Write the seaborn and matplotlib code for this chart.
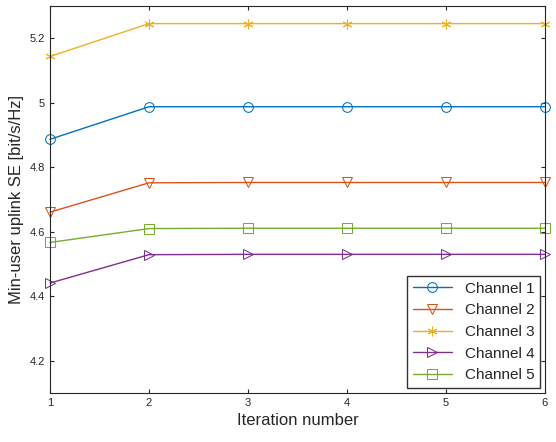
import matplotlib
matplotlib.use("Agg")
import matplotlib.pyplot as plt
import pandas as pd
import seaborn as sns

iterations = [1, 2, 3, 4, 5, 6]
channel_1 = [4.887, 4.988, 4.988, 4.988, 4.988, 4.988]
channel_2 = [4.661, 4.752, 4.753, 4.753, 4.753, 4.753]
channel_3 = [5.144, 5.246, 5.246, 5.246, 5.246, 5.246]
channel_4 = [4.441, 4.529, 4.530, 4.530, 4.530, 4.530]
channel_5 = [4.567, 4.610, 4.611, 4.611, 4.611, 4.611]
names = ["Channel 1", "Channel 2", "Channel 3", "Channel 4", "Channel 5"]

sns.set_style("ticks")
plt.rcParams["font.family"] = ["Liberation Sans", "DejaVu Sans"]

rows = []
for name, vals in zip(names, [channel_1, channel_2, channel_3, channel_4, channel_5]):
    for it, v in zip(iterations, vals):
        rows.append({"Iteration": it, "SE": v, "Channel": name})
df = pd.DataFrame(rows)

colors = ["#0072BD", "#D95319", "#EDB120", "#7E2F8E", "#77AC30"]
markers = ["o", "v", "*", ">", "s"]

fig = plt.figure(figsize=(5.56, 4.42), dpi=100)
ax = fig.add_axes([0.09, 0.111, 0.89, 0.875])
sns.lineplot(data=df, x="Iteration", y="SE", hue="Channel", style="Channel",
             palette=colors, markers=markers, dashes=False, markersize=7,
             linewidth=1, ax=ax)
for line, c, m in zip(ax.lines, colors, markers):
    line.set_marker((6, 2, 0) if m == "*" else m)
    line.set_markeredgecolor(c)
    line.set_markerfacecolor("none")
    line.set_clip_on(False)
ax.set_xlim(1, 6)
ax.set_ylim(4.1, 5.3)
ax.set_xticks(iterations)
ax.set_yticks([4.2, 4.4, 4.6, 4.8, 5.0, 5.2])
ax.set_yticklabels(["4.2", "4.4", "4.6", "4.8", "5", "5.2"])
ax.tick_params(labelsize=8, direction="in", length=3)
ax.tick_params(top=True, right=True)
for s in ax.spines.values():
    s.set_linewidth(0.8)
    s.set_visible(True)
ax.set_xlabel("Iteration number", fontsize=12)
ax.set_ylabel("Min-user uplink SE [bit/s/Hz]", fontsize=12)
leg = ax.legend(loc="lower right", fontsize=11, frameon=True, fancybox=False,
                edgecolor="black", borderaxespad=0.3, handlelength=2.6)
for h, c, m in zip(leg.legend_handles, colors, markers):
    h.set_marker((6, 2, 0) if m == "*" else m)
    h.set_markerfacecolor("none")
    h.set_markeredgecolor(c)
fig.savefig("out.png", dpi=100)
